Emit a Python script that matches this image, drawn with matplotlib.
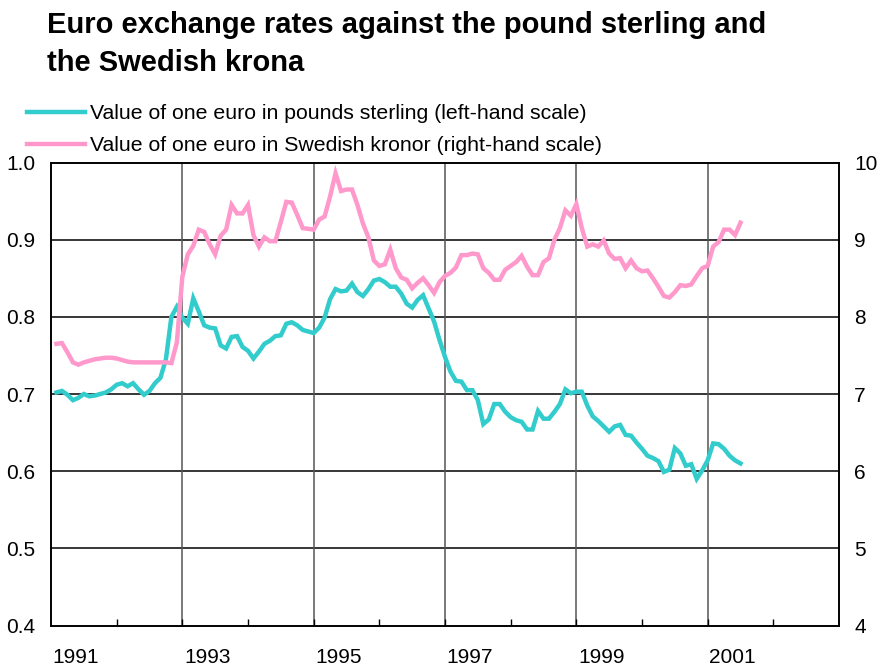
import numpy as np
import matplotlib
matplotlib.use("Agg")
import matplotlib.pyplot as plt

plt.rcParams["font.family"] = ["Liberation Sans", "DejaVu Sans"]

# Monatswerte Jan 1991 - Jun 2001
start_year = 1991
n_months = 126

gbp = [
    0.702, 0.704, 0.699, 0.692, 0.695, 0.700, 0.697, 0.698, 0.700, 0.702,
    0.706, 0.712, 0.714, 0.710, 0.714, 0.706, 0.699, 0.704, 0.714, 0.721,
    0.745, 0.800, 0.813, 0.799, 0.791, 0.824, 0.807, 0.789, 0.786, 0.785,
    0.763, 0.759, 0.774, 0.775, 0.761, 0.756, 0.746, 0.755, 0.765, 0.769,
    0.775, 0.776, 0.791, 0.793, 0.789, 0.783, 0.781, 0.779, 0.786, 0.799,
    0.823, 0.836, 0.833, 0.834, 0.843, 0.832, 0.827, 0.836, 0.847, 0.849,
    0.845, 0.839, 0.839, 0.830, 0.817, 0.812, 0.822, 0.828, 0.811, 0.794,
    0.770, 0.748, 0.729, 0.717, 0.716, 0.705, 0.705, 0.692, 0.661, 0.667,
    0.687, 0.687, 0.677, 0.670, 0.666, 0.664, 0.654, 0.654, 0.678, 0.668,
    0.668, 0.677, 0.687, 0.706, 0.701, 0.703, 0.703, 0.685, 0.671, 0.665,
    0.658, 0.651, 0.658, 0.660, 0.647, 0.646, 0.637, 0.629, 0.620, 0.617,
    0.613, 0.599, 0.602, 0.630, 0.623, 0.607, 0.609, 0.590, 0.601, 0.614,
    0.636, 0.635, 0.629, 0.620, 0.614, 0.610,
]

sek = [
    7.65, 7.66, 7.54, 7.41, 7.38, 7.41, 7.43, 7.45, 7.46, 7.47,
    7.47, 7.46, 7.44, 7.42, 7.41, 7.41, 7.41, 7.41, 7.41, 7.41,
    7.41, 7.40, 7.67, 8.52, 8.81, 8.92, 9.13, 9.10, 8.94, 8.81,
    9.05, 9.13, 9.45, 9.34, 9.34, 9.45, 9.06, 8.91, 9.03, 8.98,
    8.98, 9.23, 9.49, 9.48, 9.32, 9.15, 9.14, 9.13, 9.26, 9.30,
    9.56, 9.86, 9.63, 9.65, 9.65, 9.45, 9.21, 9.03, 8.73, 8.66,
    8.68, 8.87, 8.63, 8.51, 8.48, 8.37, 8.44, 8.50, 8.41, 8.31,
    8.45, 8.53, 8.57, 8.64, 8.80, 8.80, 8.82, 8.81, 8.63, 8.57,
    8.48, 8.48, 8.61, 8.66, 8.71, 8.79, 8.65, 8.54, 8.54, 8.71,
    8.76, 9.00, 9.15, 9.38, 9.31, 9.46, 9.15, 8.91, 8.94, 8.91,
    8.99, 8.82, 8.75, 8.76, 8.63, 8.73, 8.63, 8.59, 8.60, 8.50,
    8.39, 8.27, 8.25, 8.32, 8.41, 8.40, 8.42, 8.53, 8.63, 8.66,
    8.91, 8.97, 9.13, 9.13, 9.06, 9.22,
]

year_labels = ["1991", "1993", "1995", "1997", "1999", "2001"]
left_ticks = [0.4, 0.5, 0.6, 0.7, 0.8, 0.9, 1.0]
right_ticks = [4, 5, 6, 7, 8, 9, 10]

label_gbp = "Value of one euro in pounds sterling (left-hand scale)"
label_sek = "Value of one euro in Swedish kronor (right-hand scale)"

TEAL = "#33CCCC"
PINK = "#FF99CC"

x = start_year + np.arange(1, n_months + 1) / 12.0

fig = plt.figure(figsize=(8.8, 6.68), dpi=100)
ax = fig.add_axes([51 / 880, 1 - 625.5 / 668, 788 / 880, 463 / 668])
ax2 = ax.twinx()

# Gitter
for v in left_ticks[1:-1]:
    ax.axhline(v, color="black", lw=1.1, zorder=1)
for yr in year_labels[1:]:
    ax.axvline(int(yr), color="#555555", lw=1.1, zorder=1)

ln1, = ax.plot(x, gbp, color=TEAL, lw=3.2, zorder=3, solid_joinstyle="miter")
ln2, = ax2.plot(x, sek, color=PINK, lw=3.2, zorder=3, solid_joinstyle="miter")

ax.set_xlim(1991, 2003)
ax.set_ylim(0.4, 1.0)
ax2.set_ylim(4, 10)

ax.set_yticks(left_ticks)
ax.set_yticklabels([f"{v:.1f}" for v in left_ticks])
ax2.set_yticks(right_ticks)
ax2.set_yticklabels([str(v) for v in right_ticks])

ax.set_xticks([int(y) + 0.38 for y in year_labels])
ax.set_xticklabels(year_labels)
ax.set_xticks(np.arange(1992, 2003), minor=True)

ax.tick_params(axis="x", which="major", length=0, pad=16, labelsize=15)
ax.tick_params(axis="x", which="minor", direction="in", length=5, width=1)
ax.tick_params(axis="y", length=0, pad=11, labelsize=15)
ax2.tick_params(axis="y", length=0, pad=11, labelsize=15)

for a in (ax, ax2):
    for s in a.spines.values():
        s.set_color("black")
        s.set_linewidth(1.2)

fig.text(47 / 880, 1 - 11 / 668,
         "Euro exchange rates against the pound sterling and\nthe Swedish krona",
         fontsize=21, fontweight="bold", va="top", ha="left", linespacing=1.45)

fig.legend([ln1, ln2], [label_gbp, label_sek],
           loc="upper left", bbox_to_anchor=(21 / 880, 1 - 98 / 668),
           frameon=False, fontsize=15.3, handlelength=2.7, handletextpad=0.25,
           labelspacing=0.6, borderaxespad=0, borderpad=0.3)

fig.savefig("out.png", dpi=100)
